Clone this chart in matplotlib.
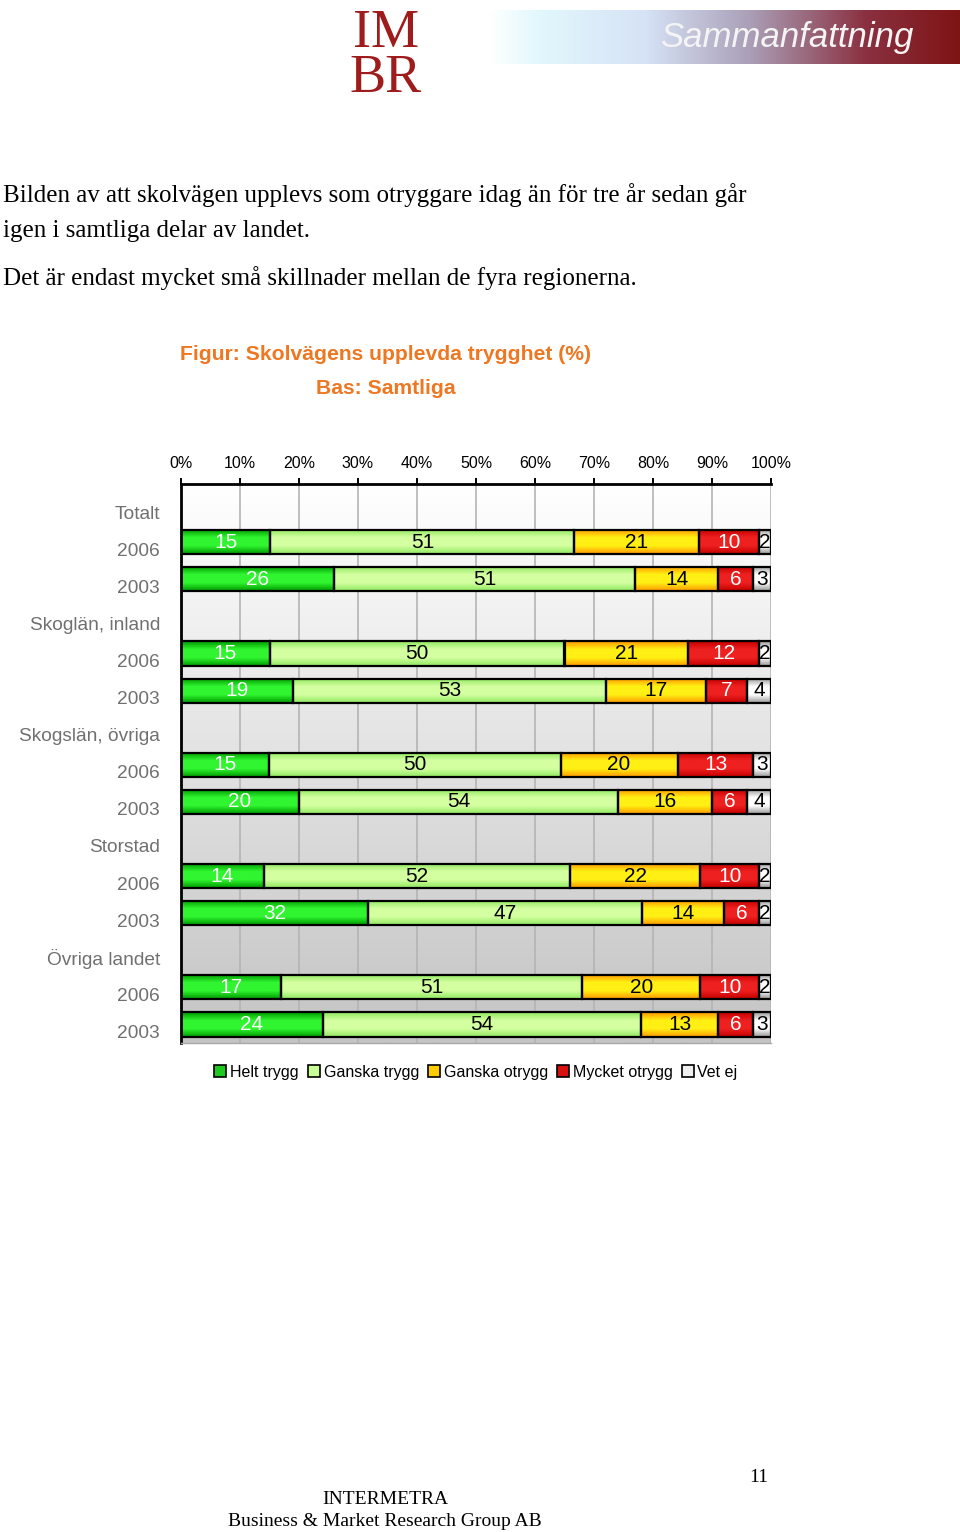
import numpy as np
import matplotlib.pyplot as plt
import matplotlib.transforms as mtransforms
from matplotlib.colors import LinearSegmentedColormap
from matplotlib.patches import Patch

# --- data ---
row_labels = ["Totalt", "2006", "2003",
              "Skoglän, inland", "2006", "2003",
              "Skogslän, övriga", "2006", "2003",
              "Storstad", "2006", "2003",
              "Övriga landet", "2006", "2003"]
bar_rows = [1, 2, 4, 5, 7, 8, 10, 11, 13, 14]

series_names = ["Helt trygg", "Ganska trygg", "Ganska otrygg", "Mycket otrygg", "Vet ej"]
helt_trygg = [15, 26, 15, 19, 15, 20, 14, 32, 17, 24]
ganska_trygg = [51, 51, 50, 53, 50, 54, 52, 47, 51, 54]
ganska_otrygg = [21, 14, 21, 17, 20, 16, 22, 14, 20, 13]
mycket_otrygg = [10, 6, 12, 7, 13, 6, 10, 6, 10, 6]
vet_ej = [2, 3, 2, 4, 3, 4, 2, 2, 2, 3]
xticks = [0, 10, 20, 30, 40, 50, 60, 70, 80, 90, 100]

series = [helt_trygg, ganska_trygg, ganska_otrygg, mycket_otrygg, vet_ej]
# (edge colour, centre colour) of each bar gradient
grad_colors = [("#009a00", "#30f530"),
               ("#8ee860", "#d4ffa0"),
               ("#ff9800", "#fff014"),
               ("#c40000", "#ee2020"),
               ("#989898", "#ffffff")]
legend_colors = ["#1ec81e", "#c8ff96", "#ffcc00", "#d81010", "#eeeeee"]
text_colors = ["white", "black", "black", "white", "black"]

W, H = 960, 1532
fig = plt.figure(figsize=(W / 100, H / 100), dpi=100)
fig.patch.set_facecolor("white")


def fx(px):
    return px / W


def fy(py):
    return 1 - py / H


# --- header: logo and banner ---
fig.text(fx(386), fy(56), "IM\nBR", fontsize=39, family="Liberation Serif",
         color="#9e1c1c", ha="center", va="center", linespacing=0.85)

ban = fig.add_axes([fx(490), fy(64), fx(470), 54 / H])
ban_cmap = LinearSegmentedColormap.from_list(
    "ban", [(0, "#ffffff"), (0.1, "#e2f8fc"), (0.33, "#d6e2f6"),
            (0.55, "#aaa0b8"), (0.8, "#8a3040"), (1, "#7e1414")])
ban.imshow(np.linspace(0, 1, 256)[None, :], cmap=ban_cmap, aspect="auto", extent=[0, 1, 0, 1])
ban.set_axis_off()
fig.text(fx(913), fy(38), "Sammanfattning", fontsize=25, style="italic",
         family="Liberation Sans", color="#f4f4f4", ha="right", va="center")

# --- body text ---
body = dict(fontsize=18, family="Liberation Serif", color="black", ha="left", va="center")
fig.text(fx(3), fy(195), "Bilden av att skolvägen upplevs som otryggare idag än för tre år sedan går", **body)
fig.text(fx(3), fy(231), "igen i samtliga delar av landet.", **body)
fig.text(fx(3), fy(278), "Det är endast mycket små skillnader mellan de fyra regionerna.", **body)

# --- chart titles ---
title_kw = dict(fontsize=15.2, fontweight="bold", family="Liberation Sans", color="#ee7722", ha="center", va="center")
fig.text(fx(386), fy(354), "Figur: Skolvägens upplevda trygghet (%)", **title_kw)
fig.text(fx(386), fy(388), "Bas: Samtliga", **title_kw)

# --- chart ---
ax = fig.add_axes([fx(181), fy(1043), fx(771) - fx(181), 559 / H])

bg_cmap = LinearSegmentedColormap.from_list("bg", ["#ffffff", "#c4c4c4"])
ax.imshow(np.linspace(0, 1, 256)[:, None], cmap=bg_cmap, aspect="auto",
          extent=[0, 1, 0, 1], transform=ax.transAxes, zorder=0)

for x in xticks[1:]:
    ax.axvline(x, color="#b4b4b4", lw=1.2, zorder=1)

vals = np.array(series, dtype=float)
shares = vals / vals.sum(axis=0) * 100
left = np.zeros(len(bar_rows))
bar_h = 0.65
for k in range(len(series)):
    edge_c, mid_c = grad_colors[k]
    cm = LinearSegmentedColormap.from_list("g%d" % k, [edge_c, mid_c, mid_c, edge_c])
    bars = ax.barh(bar_rows, shares[k], left=left, height=bar_h, color=mid_c,
                   edgecolor="black", linewidth=1.6, zorder=3)
    for b, raw, l, s, r in zip(bars, series[k], left, shares[k], bar_rows):
        im = ax.imshow(np.linspace(0, 1, 64)[:, None], cmap=cm, aspect="auto",
                       extent=[l, l + s, r + bar_h / 2, r - bar_h / 2], zorder=2.5)
        im.set_clip_path(b)
        b.set_facecolor("none")
        ax.text(l + s / 2, r, str(raw), ha="center", va="center", fontsize=15,
                family="Liberation Sans", color=text_colors[k], zorder=4, clip_on=True)
    left = left + shares[k]

ax.set_xlim(0, 100)
ax.set_ylim(14.5, -0.57)

ax.xaxis.tick_top()
ax.set_xticks(xticks)
ax.set_xticklabels(["%d%%" % x for x in xticks], fontsize=11.5, family="Liberation Sans")
ax.tick_params(axis="x", direction="out", length=4.5, width=1.4, color="black", pad=5)

ax.set_yticks(range(len(row_labels)))
ax.set_yticklabels(row_labels, fontsize=13.8, family="Liberation Sans", color="#707070")
ax.tick_params(axis="y", length=0, pad=15)
offset = mtransforms.ScaledTranslation(0, -0.07, fig.dpi_scale_trans)
for lab in ax.get_yticklabels():
    lab.set_transform(lab.get_transform() + offset)

ax.spines["right"].set_visible(False)
ax.spines["bottom"].set_color("#a8a8a8")
ax.spines["bottom"].set_linewidth(1)
ax.spines["top"].set_linewidth(2)
ax.spines["left"].set_linewidth(2)
for sp in ax.spines.values():
    sp.set_zorder(5)

handles = [Patch(facecolor=c, edgecolor="black", linewidth=1.2) for c in legend_colors]
fig.legend(handles, series_names, loc="center", bbox_to_anchor=(fx(476), fy(1072)),
           ncol=5, frameon=False, handlelength=0.75, handleheight=0.75,
           handletextpad=0.25, columnspacing=0.55,
           prop={"family": "Liberation Sans", "size": 11.5})

# --- footer ---
fig.text(fx(759), fy(1477), "11", fontsize=14, family="Liberation Serif", ha="center", va="center")
fig.text(fx(385), fy(1499), "INTERMETRA", fontsize=14, family="Liberation Serif", ha="center", va="center")
fig.text(fx(385), fy(1521), "Business & Market Research Group AB", fontsize=14,
         family="Liberation Serif", ha="center", va="center")

fig.savefig("out.png", dpi=100)
